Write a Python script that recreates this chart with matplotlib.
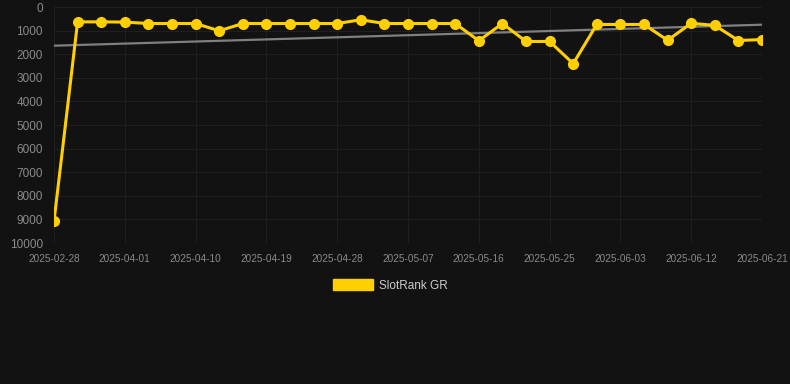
import matplotlib
matplotlib.use("Agg")
import matplotlib.pyplot as plt
from matplotlib.patches import Patch

plt.rcParams["font.family"] = ["Liberation Sans", "DejaVu Sans"]

dates = ["2025-02-28", "2025-03-26", "2025-03-29", "2025-04-01", "2025-04-04", "2025-04-07",
         "2025-04-10", "2025-04-13", "2025-04-16", "2025-04-19", "2025-04-22", "2025-04-25",
         "2025-04-28", "2025-05-01", "2025-05-04", "2025-05-07", "2025-05-10", "2025-05-13",
         "2025-05-16", "2025-05-19", "2025-05-22", "2025-05-25", "2025-05-28", "2025-05-31",
         "2025-06-03", "2025-06-06", "2025-06-09", "2025-06-12", "2025-06-15", "2025-06-18",
         "2025-06-21"]
ranks = [9080, 630, 630, 640, 700, 700, 700, 1010, 700, 700, 700, 700, 700, 540, 700, 700,
         700, 700, 1430, 700, 1460, 1460, 2400, 740, 740, 740, 1410, 690, 780, 1420, 1380]
trend = [1640, 750]  # trend line start / end values
series_name = "SlotRank GR"

BG = "#121212"
GOLD = "#FFD000"

fig = plt.figure(figsize=(7.9, 3.84), dpi=100, facecolor=BG)
ax = fig.add_axes([54 / 790, 1 - 243 / 384, (762 - 54) / 790, (243 - 7) / 384])
ax.set_facecolor(BG)

x = list(range(len(dates)))
ax.plot([x[0], x[-1]], trend, color="#808080", lw=1.6, zorder=2)
ax.plot(x, ranks, color=GOLD, lw=2.2, marker="o", markersize=7, zorder=3)

ax.set_xlim(x[0], x[-1])
ax.set_ylim(10000, 0)
ax.set_yticks(range(0, 10001, 1000))
ax.set_xticks(x[::3])
ax.set_xticklabels(dates[::3])

for s in ax.spines.values():
    s.set_visible(False)
ax.grid(True, color="#1f1f1f", lw=0.8)
ax.set_axisbelow(True)
ax.tick_params(axis="y", length=0, pad=8, labelsize=8.5, labelcolor="#8a8a8a")
ax.tick_params(axis="x", length=0, pad=8, labelsize=7.2, labelcolor="#8a8a8a")

handle = Patch(facecolor=GOLD, edgecolor=GOLD)
leg = fig.legend([handle], [series_name], loc="center", bbox_to_anchor=(390 / 790, 1 - 285.5 / 384),
                 frameon=False, handlelength=3.4, handleheight=1.0, handletextpad=0.5,
                 fontsize=8.5)
for t in leg.get_texts():
    t.set_color("#cccccc")

fig.savefig("out.png", dpi=100, facecolor=BG)
